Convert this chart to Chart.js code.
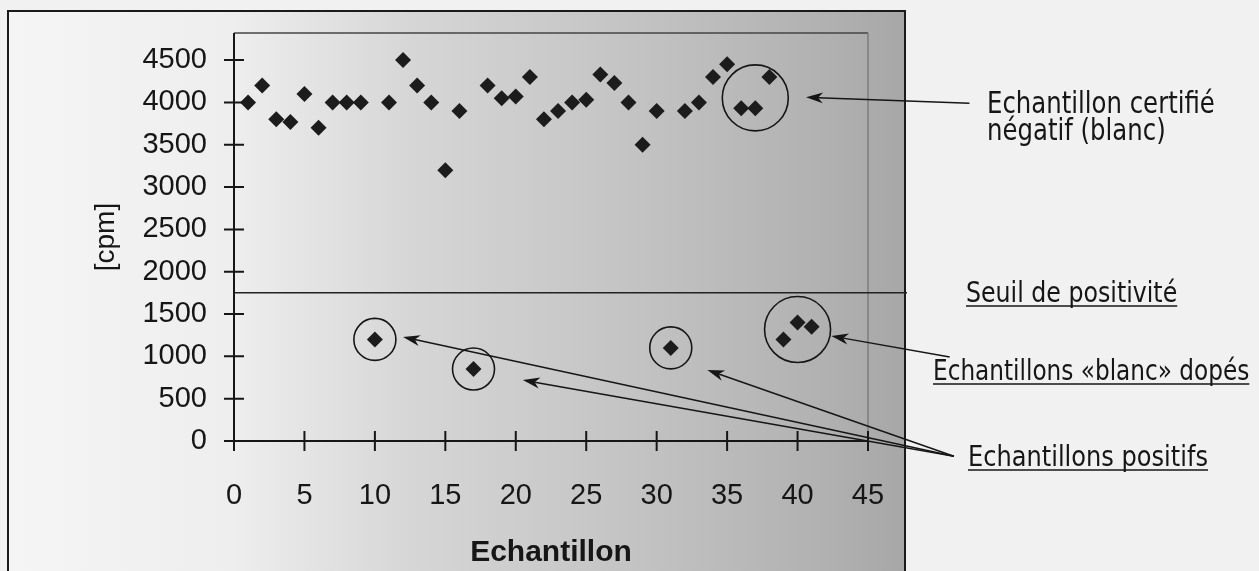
<!DOCTYPE html>
<html>
<head>
<meta charset="utf-8">
<script src="https://cdn.jsdelivr.net/npm/chart.js@4.4.1/dist/chart.umd.min.js"></script>
<style>
  html, body { margin: 0; padding: 0; background: #f1f1f1; }
  canvas { display: block; }
</style>
</head>
<body>
<canvas id="chart" width="1259" height="571"></canvas>
<script>
// numéros d'échantillon et comptages
const echantillons = [1, 2, 3, 4, 5, 6, 7, 8, 9, 10, 11, 12, 13, 14, 15, 16, 17, 18, 19, 20,
    21, 22, 23, 24, 25, 26, 27, 28, 29, 30, 31, 32, 33, 34, 35, 36, 37, 38, 39, 40, 41];
const cpm = [4000, 4200, 3800, 3770, 4100, 3700, 4000, 4000, 4000, 1200, 4000, 4500, 4200, 4000, 3200, 3900, 850, 4200, 4050, 4070,
    4300, 3800, 3900, 4000, 4030, 4330, 4230, 4000, 3500, 3900, 1100, 3900, 4000, 4300, 4450, 3930, 3930, 4300, 1200, 1400, 1350];

const xTicks = [0, 5, 10, 15, 20, 25, 30, 35, 40, 45];
const yTicks = [0, 500, 1000, 1500, 2000, 2500, 3000, 3500, 4000, 4500];
const seuil = 1750;

// groupes entourés (numéros d'échantillon)
const cercles = [
    { ids: [36, 37, 38], r: 33 },
    { ids: [39, 40, 41], r: 33 },
    { ids: [10], r: 21 },
    { ids: [17], r: 21 },
    { ids: [31], r: 21 }
];

// flèches : départ -> pointe, en coordonnées du graphique
const fleches = [
    { from: [52.2, 3990], to: [40.6, 4061] },
    { from: [50.8, 992], to: [42.4, 1240] },
    { from: [51.1, -180], to: [12.0, 1228] },
    { from: [51.1, -180], to: [20.5, 720] },
    { from: [51.1, -180], to: [33.6, 838] }
];

const legendes = [
    { lines: ['Echantillon certifié', 'négatif (blanc)'], x: 987, y: 113, w: 228, souligne: false },
    { lines: ['Seuil de positivité'], x: 966, y: 302, w: 211, souligne: true },
    { lines: ['Echantillons «blanc» dopés'], x: 933, y: 380, w: 316, souligne: true },
    { lines: ['Echantillons positifs'], x: 968, y: 466, w: 240, souligne: true }
];

const INK = '#161616';
const ANNOT_FONT = '"DejaVu Sans", sans-serif';

function drawArrow(ctx, x1, y1, x2, y2) {
    const a = Math.atan2(y2 - y1, x2 - x1);
    const len = 17, w = 5.5, back = 12;
    const c = Math.cos(a), s = Math.sin(a);
    ctx.beginPath();
    ctx.moveTo(x1, y1);
    ctx.lineTo(x2 - c * back, y2 - s * back);
    ctx.stroke();
    ctx.beginPath();
    ctx.moveTo(x2, y2);
    ctx.lineTo(x2 - c * len + s * w, y2 - s * len - c * w);
    ctx.lineTo(x2 - c * back, y2 - s * back);
    ctx.lineTo(x2 - c * len - s * w, y2 - s * len + c * w);
    ctx.closePath();
    ctx.fill();
}

const decor = {
    id: 'decor',
    beforeDraw(chart) {
        const { ctx, width, height } = chart;
        ctx.save();
        ctx.fillStyle = '#f1f1f1';
        ctx.fillRect(0, 0, width, height);
        // cadre de la figure scannée, dégradé gris vers la droite
        const g = ctx.createLinearGradient(8, 0, 905, 0);
        g.addColorStop(0, '#f5f5f5');
        g.addColorStop(0.25, '#eeeeee');
        g.addColorStop(0.45, '#d6d6d6');
        g.addColorStop(0.7, '#c3c3c3');
        g.addColorStop(0.9, '#b2b2b2');
        g.addColorStop(1, '#a7a7a7');
        ctx.fillStyle = g;
        ctx.fillRect(8, 11, 897, height);
        ctx.strokeStyle = '#1a1a1a';
        ctx.lineWidth = 2;
        ctx.strokeRect(8, 11, 897, height + 10);
        ctx.restore();
    },
    beforeDatasetsDraw(chart) {
        const { ctx, chartArea: a, scales: { x, y } } = chart;
        ctx.save();
        // cadre du tracé
        ctx.strokeStyle = '#444';
        ctx.lineWidth = 1.5;
        ctx.beginPath();
        ctx.moveTo(a.left, a.top);
        ctx.lineTo(a.right, a.top);
        ctx.stroke();
        ctx.strokeStyle = '#666';
        ctx.lineWidth = 1;
        ctx.beginPath();
        ctx.moveTo(a.right, a.top);
        ctx.lineTo(a.right, a.bottom);
        ctx.stroke();

        // seuil de positivité
        const ys = y.getPixelForValue(seuil);
        ctx.strokeStyle = '#222';
        ctx.lineWidth = 1.5;
        ctx.beginPath();
        ctx.moveTo(a.left, ys);
        ctx.lineTo(907, ys);
        ctx.stroke();

        // axes avec graduations traversantes
        ctx.strokeStyle = INK;
        ctx.lineWidth = 2;
        ctx.beginPath();
        ctx.moveTo(a.left, a.top);
        ctx.lineTo(a.left, a.bottom + 10);
        ctx.moveTo(a.left - 10, a.bottom);
        ctx.lineTo(a.right, a.bottom);
        yTicks.forEach(v => {
            const py = y.getPixelForValue(v);
            ctx.moveTo(a.left - 10, py);
            ctx.lineTo(a.left + 10, py);
        });
        xTicks.forEach(v => {
            const px = x.getPixelForValue(v);
            ctx.moveTo(px, a.bottom - 10);
            ctx.lineTo(px, a.bottom + 10);
        });
        ctx.stroke();
        ctx.restore();
    },
    afterDatasetsDraw(chart) {
        const { ctx, scales: { x, y } } = chart;
        ctx.save();
        ctx.strokeStyle = INK;
        ctx.fillStyle = INK;
        ctx.lineWidth = 1.6;

        cercles.forEach(c => {
            let sx = 0, sy = 0;
            c.ids.forEach(id => {
                const i = echantillons.indexOf(id);
                sx += x.getPixelForValue(echantillons[i]);
                sy += y.getPixelForValue(cpm[i]);
            });
            ctx.beginPath();
            ctx.arc(sx / c.ids.length, sy / c.ids.length, c.r, 0, Math.PI * 2);
            ctx.stroke();
        });

        ctx.lineWidth = 1.5;
        fleches.forEach(f => {
            drawArrow(ctx,
                x.getPixelForValue(f.from[0]), y.getPixelForValue(f.from[1]),
                x.getPixelForValue(f.to[0]), y.getPixelForValue(f.to[1]));
        });

        // légendes : police ajustée à la largeur, un peu étirée en hauteur
        ctx.textBaseline = 'alphabetic';
        ctx.textAlign = 'left';
        legendes.forEach(l => {
            ctx.font = '20px ' + ANNOT_FONT;
            const size = 20 * l.w / ctx.measureText(l.lines[0]).width;
            ctx.font = size.toFixed(1) + 'px ' + ANNOT_FONT;
            l.lines.forEach((t, k) => {
                const by = l.y + k * 27;
                ctx.save();
                ctx.translate(l.x, by);
                ctx.scale(1, 1.2);
                ctx.fillText(t, 0, 0);
                ctx.restore();
                if (l.souligne) {
                    ctx.lineWidth = 1.5;
                    ctx.beginPath();
                    ctx.moveTo(l.x, by + 4);
                    ctx.lineTo(l.x + ctx.measureText(t).width, by + 4);
                    ctx.stroke();
                }
            });
        });
        ctx.restore();
    }
};

new Chart(document.getElementById('chart'), {
    type: 'scatter',
    data: {
        datasets: [{
            data: echantillons.map((e, i) => ({ x: e, y: cpm[i] })),
            pointStyle: 'rectRot',
            pointRadius: 8,
            pointBackgroundColor: '#1c1c1c',
            pointBorderWidth: 0
        }]
    },
    options: {
        responsive: false,
        animation: false,
        devicePixelRatio: 1,
        events: [],
        layout: { padding: { top: 33, right: 391, bottom: 0, left: 0 } },
        plugins: { legend: { display: false }, tooltip: { enabled: false } },
        scales: {
            x: {
                type: 'linear', min: 0, max: 45,
                afterBuildTicks: s => { s.ticks = xTicks.map(v => ({ value: v })); },
                afterFit: s => { s.height = 130; s.paddingLeft = 0; s.paddingRight = 0; },
                grid: { display: false, drawTicks: false },
                border: { display: false },
                ticks: {
                    padding: 38, color: INK, autoSkip: false, maxRotation: 0,
                    font: { family: 'Liberation Sans', size: 29 },
                    callback: v => String(v)
                },
                title: {
                    display: true, text: 'Echantillon', color: INK,
                    font: { family: 'Liberation Sans', size: 30, weight: 'bold' },
                    padding: { top: 0, bottom: 0 }
                }
            },
            y: {
                type: 'linear', min: 0, max: 4820,
                afterBuildTicks: s => { s.ticks = yTicks.map(v => ({ value: v })); },
                afterFit: s => { s.width = 234; s.paddingTop = 0; s.paddingBottom = 0; },
                grid: { display: false, drawTicks: false },
                border: { display: false },
                ticks: {
                    padding: 27, color: INK, autoSkip: false,
                    font: { family: 'Liberation Sans', size: 29 },
                    callback: v => String(v)
                },
                title: {
                    display: true, text: '[cpm]', color: INK,
                    font: { family: 'Liberation Sans', size: 28 },
                    padding: { top: 89, bottom: 0 }
                }
            }
        }
    },
    plugins: [decor]
});
</script>
</body>
</html>
